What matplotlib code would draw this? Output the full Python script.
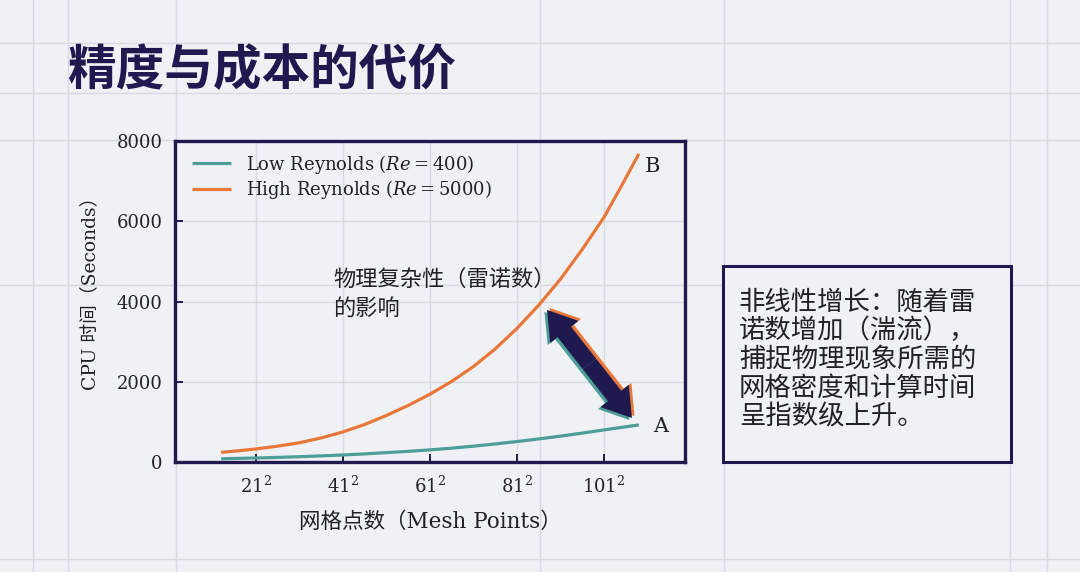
import matplotlib
matplotlib.use("Agg")
import matplotlib.pyplot as plt
from matplotlib.lines import Line2D
from matplotlib.patches import Rectangle, FancyArrow
import matplotlib.transforms as mtransforms

# ---------------- data ----------------
mesh_n = [13, 17, 21, 26, 31, 36, 41, 46, 51, 56, 61, 66, 71, 76, 81, 86, 91, 96, 101, 105, 109]
low_re = [80, 90, 100, 115, 132, 152, 175, 202, 233, 266, 302, 345, 395, 450, 510, 575, 645, 720, 800, 862, 925]
high_re = [240, 280, 325, 395, 480, 600, 750, 935, 1160, 1410, 1690, 2010, 2380, 2820, 3330,
           3910, 4560, 5300, 6100, 6880, 7680]
xtick_vals = [21, 41, 61, 81, 101]
xtick_labels = [r"$21^2$", r"$41^2$", r"$61^2$", r"$81^2$", r"$101^2$"]
ytick_vals = [0, 2000, 4000, 6000, 8000]
series_labels = [r"Low Reynolds ($Re = 400$)", r"High Reynolds ($Re = 5000$)"]

title = "精度与成本的代价"
note = "物理复杂性（雷诺数）\n的影响"
box_lines = ["非线性增长：随着雷", "诺数增加（湍流），", "捕捉物理现象所需的",
             "网格密度和计算时间", "呈指数级上升。"]

# ---------------- style ----------------
BG = "#f0f1f5"
NAVY = "#1e1a4f"
TEAL = "#4d9e97"
ORANGE = "#e8773a"
GRID = "#d9dae1"
TXT = "#222222"

plt.rcParams["font.family"] = ["DejaVu Serif", "Noto Sans CJK SC"]
plt.rcParams["mathtext.fontset"] = "dejavuserif"

W, H = 1080, 572
fig = plt.figure(figsize=(W / 100, H / 100), dpi=100, facecolor=BG)

# page guide lines
for xp in [33, 68, 176, 540, 724, 1010, 1047]:
    fig.add_artist(Line2D([xp / W, xp / W], [0, 1], transform=fig.transFigure,
                          color=GRID, lw=1, zorder=-5))
for yp in [43, 93, 140, 285, 559]:
    fig.add_artist(Line2D([0, 1], [1 - yp / H, 1 - yp / H], transform=fig.transFigure,
                          color=GRID, lw=1, zorder=-5))

ax = fig.add_axes([175 / W, 1 - 462 / H, (685 - 175) / W, (462 - 141) / H])
ax.set_facecolor("none")

ax.plot(mesh_n, low_re, color=TEAL, lw=2.3, label=series_labels[0], solid_capstyle="butt")
ax.plot(mesh_n, high_re, color=ORANGE, lw=2.3, label=series_labels[1], solid_capstyle="butt")

ax.set_xlim(2.4, 119.6)
ax.set_ylim(0, 8000)
ax.set_xticks(xtick_vals)
ax.set_xticklabels(xtick_labels)
ax.set_yticks(ytick_vals)
ax.tick_params(direction="in", length=6, width=1.4, color=NAVY, labelsize=13,
               labelcolor=TXT)
ax.tick_params(axis="y", pad=9)
ax.tick_params(axis="x", pad=10)
ax.grid(True, color=GRID, lw=1)
ax.set_axisbelow(True)
for s in ax.spines.values():
    s.set_color(NAVY)
    s.set_linewidth(2.4)

ax.set_xlabel("网格点数（Mesh Points）", fontsize=15.5, color=TXT, labelpad=10)
ax.set_ylabel("CPU 时间（Seconds）", fontsize=13.5, color=TXT)
ax.yaxis.set_label_coords(-0.148, 0.54)

leg = ax.legend(loc="upper left", bbox_to_anchor=(5 / 510, 1.0), frameon=False,
                fontsize=13, handlelength=2.2, handletextpad=0.8,
                labelspacing=0.12, borderaxespad=0.25)
for t in leg.get_texts():
    t.set_color(TXT)

# point labels
ax.annotate("B", xy=(mesh_n[-1], high_re[-1]), xytext=(10, -9),
            textcoords="offset points", fontsize=15, color=TXT, ha="center", va="center")
ax.annotate("A", xy=(mesh_n[-1], low_re[-1]), xytext=(16, -1),
            textcoords="offset points", fontsize=15, color=TXT, ha="center", va="center")

ax.text(38.7, 4830, note, fontsize=16, color=TXT, va="top", ha="left",
        family=["Noto Sans CJK SC"], linespacing=1.3)

# double-headed arrow between curves (built in pixel space)
tipA = (87.9, 3790)
tipB = (107.4, 1097)
pA = ax.transData.transform(tipA)
pB = ax.transData.transform(tipB)
pm = (pA + pB) / 2
ident = mtransforms.IdentityTransform()
for (ox, oy), col, z in [((2.6, 2.0), ORANGE, 5), ((-2.6, -2.0), TEAL, 5), ((0, 0), NAVY, 6)]:
    for tip in (pA, pB):
        arr = FancyArrow(pm[0] + ox, pm[1] + oy, tip[0] - pm[0], tip[1] - pm[1],
                         width=17, head_width=36, head_length=28,
                         length_includes_head=True, transform=ident,
                         color=col, lw=0, zorder=z, clip_on=False)
        ax.add_artist(arr)

# title
fig.text(67 / W, 1 - 71 / H, title, fontsize=35, weight="bold", color=NAVY,
         va="center", ha="left", family=["Noto Sans CJK SC"])

# side note box
fig.add_artist(Rectangle((723 / W, 1 - 462 / H), (1011 - 723) / W, (462 - 266) / H,
                         transform=fig.transFigure, facecolor=BG, edgecolor=NAVY,
                         lw=2.2, zorder=3))
for i, line in enumerate(box_lines):
    fig.text(739 / W, 1 - (302 + i * 28.75) / H, line, fontsize=19, color=TXT,
             va="center", ha="left", family=["Noto Sans CJK SC"], zorder=4)

fig.savefig("out.png", dpi=100, facecolor=BG)
